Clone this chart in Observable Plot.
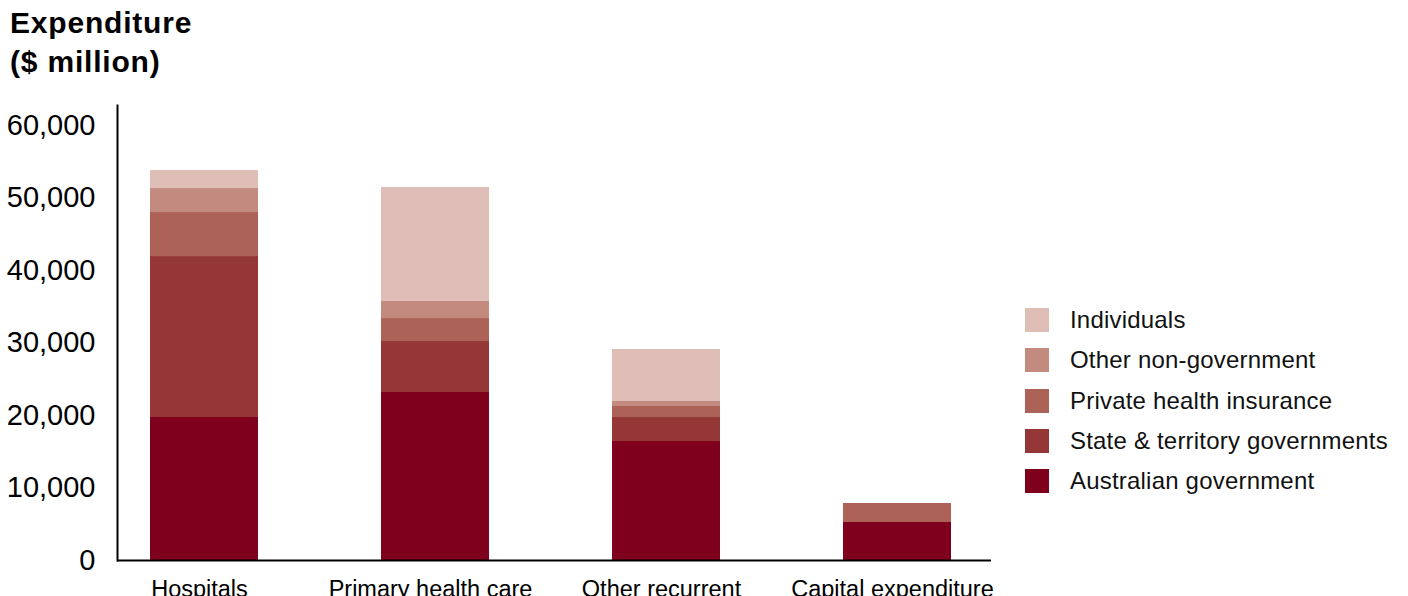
<!DOCTYPE html>
<html><head><meta charset="utf-8">
<script src="https://cdn.jsdelivr.net/npm/d3@7"></script>
<script src="https://cdn.jsdelivr.net/npm/@observablehq/plot@0.6"></script>
<style>
body{margin:0;background:#fff;font-family:"Liberation Sans",Arial,sans-serif;overflow:hidden}
#wrap{position:relative;width:1408px;height:596px;overflow:hidden}
#chart{position:absolute;left:0;top:0}
#title{position:absolute;left:10px;top:3px;font-weight:bold;font-size:30px;line-height:39px;color:#000;letter-spacing:0.8px}
#legend{position:absolute;left:1025px;top:308px}
.item{display:flex;align-items:center;height:24px;margin-bottom:16.25px}
.sw{width:24px;height:24px;margin-right:21px}
.lab{font-size:24px;color:#111;letter-spacing:0.2px;white-space:nowrap}
</style></head>
<body>
<div id="wrap">
  <div id="chart"></div>
  <div id="title">Expenditure<br>($ million)</div>
  <div id="legend"></div>
</div>
<script>
const categories = ["Hospitals", "Primary health care", "Other recurrent", "Capital expenditure"];
const sources = ["Australian government", "State & territory governments", "Private health insurance", "Other non-government", "Individuals"];
const australianGovernment = [19720, 23170, 16410, 5240];
const stateTerritoryGovernments = [22200, 7030, 3310, 0];
const privateHealthInsurance = [6070, 3170, 1520, 2620];
const otherNonGovernment = [3310, 2350, 690, 0];
const individuals = [2480, 15720, 7170, 0];
const colors = ["#7f001c", "#953737", "#ad6258", "#c38a80", "#dfbeb7"];
const yTicks = [0, 10000, 20000, 30000, 40000, 50000, 60000];

const seriesValues = [australianGovernment, stateTerritoryGovernments, privateHealthInsurance, otherNonGovernment, individuals];
const rows = [];
categories.forEach((c, i) => {
  sources.forEach((s, j) => rows.push({category: c, source: s, value: seriesValues[j][i]}));
});

const chart = Plot.plot({
  width: 1408,
  height: 620,
  marginLeft: 117,
  marginRight: 417,
  marginTop: 105,
  marginBottom: 60,
  style: {fontFamily: "Liberation Sans, Arial, sans-serif", color: "#000", background: "transparent"},
  x: {domain: categories, range: [117, 983], paddingInner: 0.533, paddingOuter: 0.138, label: null},
  y: {domain: [0, 62750], label: null},
  color: {domain: sources, range: colors},
  marks: [
    Plot.barY(rows, {x: "category", y: "value", fill: "source", order: sources}),
    Plot.axisY({ticks: yTicks, tickSize: 0, tickPadding: 22, tickFormat: d3.format(","), fontSize: 29, label: null, letterSpacing: 0.3}),
    Plot.axisX({tickSize: 0, tickPadding: 20, dx: -5, fontSize: 23.5, label: null}),
    Plot.ruleY([0], {strokeWidth: 2}),
    Plot.frame({anchor: "left", strokeWidth: 2})
  ]
});
document.getElementById("chart").appendChild(chart);

const legend = d3.select("#legend");
sources.slice().reverse().forEach(s => {
  const item = legend.append("div").attr("class", "item");
  item.append("div").attr("class", "sw").style("background", colors[sources.indexOf(s)]);
  item.append("div").attr("class", "lab").text(s);
});
</script>
</body></html>
